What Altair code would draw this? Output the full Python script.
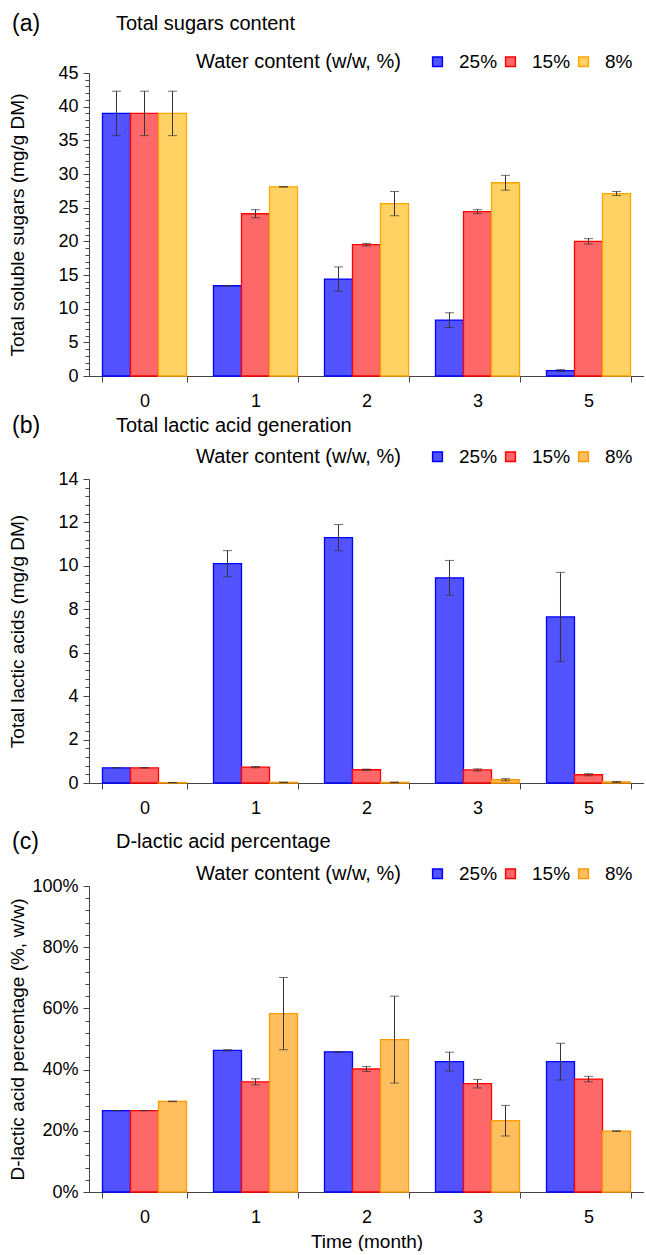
import altair as alt
import pandas as pd

FONT = "Liberation Sans"

months = ["0", "1", "2", "3", "5"]
series = ["25%", "15%", "8%"]

# (a) Total soluble sugars (mg/g DM)
sugar_25 = [39.0, 13.4, 14.4, 8.3, 0.8]
sugar_25_err = [3.3, 0.05, 1.8, 1.1, 0.15]
sugar_15 = [39.0, 24.1, 19.5, 24.4, 20.0]
sugar_15_err = [3.3, 0.6, 0.2, 0.3, 0.4]
sugar_8 = [39.0, 28.1, 25.6, 28.7, 27.1]
sugar_8_err = [3.3, 0.05, 1.8, 1.1, 0.3]

# (b) Total lactic acids (mg/g DM)
lactic_25 = [0.7, 10.1, 11.3, 9.45, 7.65]
lactic_25_err = [0.01, 0.6, 0.6, 0.8, 2.05]
lactic_15 = [0.7, 0.73, 0.61, 0.6, 0.38]
lactic_15_err = [0.01, 0.03, 0.03, 0.05, 0.05]
lactic_8 = [0.02, 0.03, 0.03, 0.15, 0.05]
lactic_8_err = [0.0, 0.01, 0.01, 0.05, 0.02]

# (c) D-lactic acid percentage (fraction)
dl_25 = [0.266, 0.463, 0.458, 0.426, 0.426]
dl_25_err = [0.0, 0.002, 0.001, 0.031, 0.06]
dl_15 = [0.266, 0.360, 0.402, 0.354, 0.369]
dl_15_err = [0.0, 0.01, 0.008, 0.014, 0.009]
dl_8 = [0.296, 0.583, 0.498, 0.233, 0.199]
dl_8_err = [0.001, 0.118, 0.142, 0.05, 0.001]

fills_a = ["#5252ff", "#ff6868", "#ffd263"]
strokes_a = ["#0000ff", "#ff0000", "#ffa500"]
fills_bc = ["#5252ff", "#ff6868", "#ffbf5e"]
strokes_bc = ["#0000ff", "#ff0000", "#ff9900"]


def make_df(v25, e25, v15, e15, v8, e8):
    rows = []
    for s, vals, errs in zip(series, [v25, v15, v8], [e25, e15, e8]):
        for m, v, e in zip(months, vals, errs):
            rows.append({"month": m, "series": s, "value": v, "lo": v - e, "hi": v + e})
    return pd.DataFrame(rows)


W = 555


def panel(df, letter, title, ytitle, ydomain, ymajor, yminor, yfmt,
          fills, strokes, title_y, legend_y, H, xtitle=None):
    base = alt.Chart(df)
    xaxis_kw = dict(labelAngle=0, tickBand="extent", tickSize=6, labelPadding=10)
    if xtitle:
        xaxis_kw["title"] = xtitle
        xaxis_kw["titlePadding"] = 6
    else:
        xaxis_kw["title"] = None
    x = alt.X("month:N", sort=months,
              scale=alt.Scale(paddingInner=0.243, paddingOuter=0.1215),
              axis=alt.Axis(**xaxis_kw))
    xo = alt.XOffset("series:N", sort=series,
                     scale=alt.Scale(paddingInner=0, paddingOuter=0))

    def ysc():
        return alt.Scale(domain=ydomain, nice=False, zero=True)

    major = alt.Axis(values=ymajor, format=yfmt, title=ytitle, orient="left",
                     tickSize=6, labelPadding=5, grid=False,
                     titleX=-72, titleY=H / 2, titleAngle=270,
                     titleBaseline="middle", titleAlign="center")
    minor = alt.Axis(values=yminor, labels=False, domain=False, ticks=True,
                     tickSize=4, grid=False, title=None, orient="left")
    legend = alt.Legend(title="Water content (w/w, %)", orient="none",
                        legendX=107, legendY=legend_y, direction="horizontal",
                        titleOrient="left", titleFontSize=20, titleFontWeight="normal",
                        titleFont=FONT, titleColor="black", titlePadding=27, titleLimit=400,
                        labelFontSize=19, labelFont=FONT, labelColor="black",
                        symbolType="square", symbolSize=95, symbolStrokeWidth=1.5,
                        labelOffset=12, columnPadding=3,
                        labelExpr="datum.label == '8%' ? '\u00a08%' : datum.label")
    bars = base.mark_bar(strokeWidth=1.3).encode(
        x=x, xOffset=xo,
        y=alt.Y("value:Q", scale=ysc(), axis=major),
        fill=alt.Fill("series:N", sort=series,
                      scale=alt.Scale(domain=series, range=fills), legend=legend),
        stroke=alt.Stroke("series:N", sort=series,
                          scale=alt.Scale(domain=series, range=strokes), legend=legend),
    )
    rule = base.mark_rule(color="#333", strokeWidth=1).encode(
        x=x, xOffset=xo, y=alt.Y("lo:Q", scale=ysc(), axis=minor), y2="hi:Q")
    cap_lo = base.mark_tick(color="#333", thickness=1, size=9).encode(
        x=x, xOffset=xo, y=alt.Y("lo:Q", scale=ysc(), axis=None))
    cap_hi = base.mark_tick(color="#333", thickness=1, size=9).encode(
        x=x, xOffset=xo, y=alt.Y("hi:Q", scale=ysc(), axis=None))
    t_letter = alt.Chart(pd.DataFrame({"t": [letter]})).mark_text(
        align="left", baseline="middle", fontSize=23, font=FONT, color="black"
    ).encode(text="t:N", x=alt.value(-77), y=alt.value(title_y))
    t_title = alt.Chart(pd.DataFrame({"t": [title]})).mark_text(
        align="left", baseline="middle", fontSize=20, font=FONT, color="black"
    ).encode(text="t:N", x=alt.value(27), y=alt.value(title_y))
    return alt.layer(bars, rule, cap_lo, cap_hi, t_letter, t_title).resolve_scale(
        y="independent").properties(width=W, height=H)


df_a = make_df(sugar_25, sugar_25_err, sugar_15, sugar_15_err, sugar_8, sugar_8_err)
df_b = make_df(lactic_25, lactic_25_err, lactic_15, lactic_15_err, lactic_8, lactic_8_err)
df_c = make_df(dl_25, dl_25_err, dl_15, dl_15_err, dl_8, dl_8_err)

pa = panel(df_a, "(a)", "Total sugars content", "Total soluble sugars (mg/g DM)",
           [0, 45], list(range(0, 46, 5)), list(range(0, 46, 1)), "d",
           fills_a, strokes_a, -49, -21, 303)
pb = panel(df_b, "(b)", "Total lactic acid generation", "Total lactic acids (mg/g DM)",
           [0, 14], list(range(0, 15, 2)), [round(i * 0.4, 1) for i in range(36)], "d",
           fills_bc, strokes_bc, -53, -32, 304)
pc = panel(df_c, "(c)", "D-lactic acid percentage", "D-lactic acid percentage (%, w/w)",
           [0, 1], [i / 5 for i in range(6)], [round(i * 0.04, 2) for i in range(26)], ".0%",
           fills_bc, strokes_bc, -44, -22, 306, xtitle="Time (month)")

chart = alt.vconcat(pa, pb, pc, spacing=103, bounds="flush").resolve_scale(
    y="independent", fill="independent", stroke="independent"
).resolve_legend(fill="independent", stroke="independent").properties(
    padding={"left": 8, "top": 13, "right": 0, "bottom": 0}
).configure_view(strokeWidth=0).configure_axis(
    labelFont=FONT, titleFont=FONT, labelFontSize=18, titleFontSize=19,
    labelColor="black", titleColor="black", titleFontWeight="normal",
    domainColor="#444", tickColor="#444"
)

chart.save("out.html", embed_options={"renderer": "svg", "actions": False})
